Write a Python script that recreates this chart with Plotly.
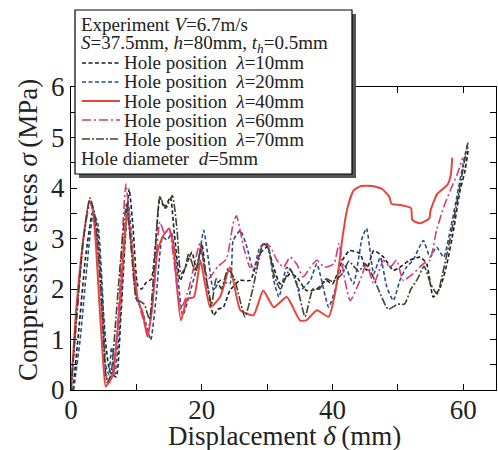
import plotly.graph_objects as go

# ---------------- data ----------------
x_l10 = [0.3, 1.2, 2.2, 3.3, 4.0, 4.7, 5.4, 6.0, 6.9, 7.6, 8.3, 8.9, 9.5, 10.2, 10.8, 11.5, 12.3, 13.0, 13.6, 14.3,
         15.2, 15.8, 16.7, 17.7, 18.5, 19.2, 20.0, 20.8, 21.8, 22.5, 23.3, 24.3, 25.8, 27.4, 28.9, 30.0, 31.0, 32.0,
         33.5, 34.5, 36.0, 37.6, 39.0, 40.0, 41.5, 42.6, 44.2, 45.2, 46.3, 47.8, 49.3, 50.3, 51.8, 53.4, 54.4, 55.4,
         56.5, 57.5, 58.5, 59.5, 60.2, 60.8]
y_l10 = [0, 1.2, 2.6, 3.52, 3.2, 2.0, 0.8, 0.35, 0.26, 1.4, 3.0, 3.98, 3.2, 2.07, 2.0, 2.13, 2.2, 3.0, 3.82, 3.6,
         3.82, 3.1, 2.17, 2.5, 2.73, 2.37, 2.9, 2.1, 1.48, 1.6, 1.64, 1.97, 2.17, 2.17, 2.7, 2.83, 2.43, 2.1,
         2.3, 2.24, 1.97, 2.0, 2.17, 2.1, 2.57, 2.76, 2.7, 2.37, 2.76, 2.63, 2.37, 2.43, 2.57, 2.63, 2.5, 1.84,
         2.04, 2.5, 3.16, 3.95, 4.3, 4.8]

x_l20 = [0.4, 1.4, 2.4, 3.4, 4.1, 4.8, 5.3, 5.8, 6.2, 6.7, 7.4, 8.0, 8.7, 9.3, 10.0, 10.8, 11.5, 12.2, 13.0, 14.0,
         14.7, 15.4, 16.2, 17.1, 18.5, 19.4, 20.3, 21.0, 21.8, 22.8, 24.3, 24.8, 25.9, 26.9, 27.9, 28.9, 30.0, 31.0,
         31.8, 33.0, 34.0, 35.0, 36.6, 37.6, 39.4, 40.2, 41.7, 43.2, 44.5, 45.2, 46.3, 47.3, 48.3, 49.3, 50.3, 51.3,
         52.3, 53.9, 54.9, 55.9, 57.0, 58.0, 59.0, 60.0, 60.6]
y_l20 = [0, 1.0, 2.4, 3.5, 3.3, 2.0, 0.5, 0.3, 0.85, 0.3, 1.2, 2.6, 3.75, 3.0, 1.8, 1.6, 1.3, 0.99, 1.8, 3.03,
         2.97, 3.1, 2.4, 1.48, 2.07, 2.5, 3.16, 2.6, 1.97, 2.17, 2.1, 2.96, 3.16, 2.83, 2.37, 2.83, 2.9, 2.17,
         1.84, 2.43, 2.3, 1.97, 2.17, 2.5, 1.64, 1.9, 2.5, 2.1, 3.0, 3.2, 2.3, 2.63, 2.04, 1.77, 2.17, 2.43,
         2.57, 2.96, 2.63, 2.83, 2.63, 3.16, 3.82, 4.5, 4.85]

x_l40 = [0, 0.8, 1.8, 2.8, 3.3, 3.8, 4.3, 4.8, 5.3, 5.8, 6.4, 7.4, 8.1, 8.65, 9.3, 10.2, 11.0, 11.7, 12.4, 13.2,
         14.0, 15.0, 15.6, 16.8, 17.8, 18.8, 19.8, 20.5, 21.3, 22.8, 24.3, 25.9, 27.9, 29.4, 31.0, 33.0, 35.0, 36.0,
         37.6, 39.4, 40.5, 41.5, 42.2, 43.2, 44.4, 46.1, 47.6, 48.7, 49.0, 50.5, 52.0, 52.2, 53.3, 54.8, 55.0, 56.0,
         57.6, 58.1, 58.3]
y_l40 = [0, 1.6, 2.9, 3.75, 3.6, 2.9, 1.8, 0.8, 0.07, 0.15, 0.3, 1.6, 2.9, 3.52, 2.8, 1.81, 1.5, 1.05, 1.6, 2.73,
         3.03, 3.2, 2.9, 1.38, 1.81, 1.84, 2.57, 2.1, 1.64, 1.84, 2.43, 1.58, 1.48, 1.97, 1.64, 1.84, 1.38, 1.38,
         1.58, 1.45, 2.0, 3.0, 3.56, 3.95, 4.04, 4.04, 3.98, 3.82, 3.69, 3.66, 3.6, 3.37, 3.3, 3.4, 3.56, 3.88,
         4.07, 4.27, 4.6]

x_l60 = [0, 0.9, 1.9, 2.9, 3.5, 4.2, 4.8, 5.3, 5.9, 6.6, 7.4, 8.0, 8.4, 9.0, 9.8, 10.6, 11.7, 12.6, 13.6, 14.3,
         15.0, 15.7, 16.8, 18.0, 19.7, 20.4, 21.0, 22.5, 23.8, 24.8, 25.3, 26.4, 27.4, 28.4, 29.4, 30.5, 31.5, 32.5,
         33.5, 34.5, 35.5, 36.6, 37.6, 38.8, 40.2, 41.0, 41.7, 42.7, 44.2, 45.2, 46.3, 47.8, 48.8, 49.8, 50.8, 52.3,
         53.9, 54.9, 55.9, 57.0, 58.0, 59.0, 59.9]
y_l60 = [0, 1.5, 3.0, 3.7, 3.5, 2.6, 1.4, 0.3, 0.15, 0.5, 1.8, 3.4, 4.08, 3.3, 2.0, 1.6, 1.15, 1.9, 3.33, 3.1,
         3.2, 2.6, 1.6, 2.0, 2.9, 2.4, 2.2, 2.45, 2.6, 3.3, 3.45, 2.83, 2.43, 2.5, 2.9, 2.83, 2.57, 2.43,
         2.63, 2.5, 2.24, 2.43, 2.57, 2.43, 2.5, 2.9, 2.3, 1.77, 2.17, 2.5, 2.1, 2.57, 2.43, 2.57, 2.17, 2.3,
         2.5, 2.57, 3.16, 3.62, 3.95, 4.25, 4.6]

x_l70 = [0, 0.9, 1.9, 2.9, 3.6, 4.3, 4.9, 5.5, 6.1, 6.8, 7.6, 8.5, 9.2, 10.0, 10.6, 11.2, 12.0, 12.8, 13.6, 14.5,
         15.5, 16.2, 16.8, 17.4, 18.0, 19.0, 19.9, 20.7, 21.5, 22.2, 23.0, 24.0, 25.0, 26.6, 27.8, 29.4, 30.2, 31.0,
         32.0, 33.5, 34.5, 35.8, 37.0, 38.0, 39.0, 40.0, 41.5, 42.5, 44.0, 45.0, 46.0, 47.0, 48.5, 50.0, 51.0, 52.0,
         53.0, 54.0, 55.0, 56.0, 57.0, 58.0, 59.0, 60.0, 60.7]
y_l70 = [0, 1.5, 3.0, 3.8, 3.5, 2.5, 1.2, 0.15, 0.3, 1.3, 2.6, 3.7, 2.8, 1.8, 1.75, 1.7, 1.4, 2.6, 3.82, 3.6,
         3.85, 3.2, 2.3, 2.4, 2.7, 2.35, 2.8, 2.2, 1.7, 2.2, 2.0, 2.4, 2.2, 1.45, 2.0, 2.9, 2.8, 2.3,
         2.0, 2.4, 2.1, 1.45, 2.0, 2.0, 2.2, 2.15, 2.3, 2.55, 2.35, 2.5, 2.3, 2.0, 1.6, 1.7, 1.7, 2.0,
         2.2, 2.45, 2.1, 1.9, 2.4, 3.0, 3.7, 4.4, 4.9]

legend_header = ["Experiment <i>V</i>=6.7m/s",
                 "<i>S</i>=37.5mm, <i>h</i>=80mm, <i>t</i><sub><i>h</i></sub>=0.5mm"]
legend_labels = ["Hole position  <i>λ</i>=10mm", "Hole position  <i>λ</i>=20mm",
                 "Hole position  <i>λ</i>=40mm", "Hole position  <i>λ</i>=60mm",
                 "Hole position  <i>λ</i>=70mm"]
legend_footer = "Hole diameter  <i>d</i>=5mm"

x_title = "Displacement <i>δ</i>\u2009(mm)"
y_title = "Compressive stress <i>σ</i>\u2009(MPa)"

# ---------------- styles ----------------
FONT = "Liberation Serif"
styles = [
    dict(color="#1e1e1e", width=1.6, dash="4px,2.5px"),
    dict(color="#2a4c8c", width=1.6, dash="4px,2.5px"),
    dict(color="#e4463c", width=2.0, dash="solid"),
    dict(color="#d63a78", width=1.6, dash="9px,3px,2px,3px"),
    dict(color="#45432c", width=1.6, dash="8px,2px,2px,2px"),
]
series = [(x_l10, y_l10), (x_l20, y_l20), (x_l40, y_l40), (x_l60, y_l60), (x_l70, y_l70)]

W, H = 498, 450
ML, MR, MT, MB = 71, 2, 87, 60
PW, PH = W - ML - MR, H - MT - MB


def pxx(x):
    return (x - ML) / PW


def pxy(y):
    return (H - MB - y) / PH


fig = go.Figure()
for (xs, ys), st, name in zip(series, styles, legend_labels):
    fig.add_trace(go.Scatter(x=xs, y=ys, mode="lines", name=name, showlegend=False,
                             line=dict(color=st["color"], width=st["width"], dash=st["dash"],
                                       shape="spline", smoothing=0.5)))

axis_common = dict(showline=True, linecolor="black", linewidth=1.3, mirror="ticks",
                   ticks="inside", ticklen=6, tickwidth=1.2, tickcolor="black",
                   showgrid=False, zeroline=False,
                   tickfont=dict(family=FONT, size=27, color="#222"))

fig.update_xaxes(range=[0, 65], tickmode="array", tickvals=[0, 20, 40, 60], ticklabelstandoff=-5,
                 minor=dict(dtick=10, tick0=0, ticks="inside", ticklen=6, tickcolor="black", tickwidth=1.2),
                 **axis_common)
fig.update_yaxes(range=[0, 6], dtick=1, tick0=0,
                 minor=dict(dtick=0.5, tick0=0, ticks="inside", ticklen=6, tickcolor="black", tickwidth=1.2),
                 **axis_common)

shapes = []
annotations = []

# legend box with shadow
bx0, by0, bx1, by1 = 75, 10, 352, 174
shapes.append(dict(type="rect", xref="paper", yref="paper", layer="above",
                   x0=pxx(bx0 + 4), x1=pxx(bx1 + 4), y0=pxy(by1 + 4), y1=pxy(by0 + 4),
                   fillcolor="#555555", line=dict(width=0)))
shapes.append(dict(type="rect", xref="paper", yref="paper", layer="above",
                   x0=pxx(bx0), x1=pxx(bx1), y0=pxy(by1), y1=pxy(by0),
                   fillcolor="white", line=dict(color="black", width=1.2)))

line_y = [25, 44, 63, 82, 101, 120, 139, 158]
tfont = dict(family=FONT, size=19, color="#222")
for i, txt in enumerate(legend_header):
    annotations.append(dict(text=txt, xref="paper", yref="paper", x=pxx(79), y=pxy(line_y[i]),
                            xanchor="left", yanchor="middle", showarrow=False, font=tfont))
for j, (txt, st) in enumerate(zip(legend_labels, styles)):
    yy = line_y[2 + j]
    shapes.append(dict(type="line", xref="paper", yref="paper", layer="above",
                       x0=pxx(82), x1=pxx(120), y0=pxy(yy), y1=pxy(yy),
                       line=dict(color=st["color"], width=st["width"], dash=st["dash"])))
    annotations.append(dict(text=txt, xref="paper", yref="paper", x=pxx(122), y=pxy(yy),
                            xanchor="left", yanchor="middle", showarrow=False, font=tfont))
annotations.append(dict(text=legend_footer, xref="paper", yref="paper", x=pxx(79), y=pxy(line_y[7]),
                        xanchor="left", yanchor="middle", showarrow=False, font=tfont))

# axis titles
annotations.append(dict(text=x_title, xref="paper", yref="paper", x=pxx(284), y=pxy(436),
                        xanchor="center", yanchor="middle", showarrow=False,
                        font=dict(family=FONT, size=27, color="#222")))
annotations.append(dict(text=y_title, xref="paper", yref="paper", x=pxx(28), y=pxy(230),
                        xanchor="center", yanchor="middle", showarrow=False, textangle=-90,
                        font=dict(family=FONT, size=27, color="#222")))

fig.update_layout(width=W, height=H, margin=dict(l=ML, r=MR, t=MT, b=MB),
                  paper_bgcolor="white", plot_bgcolor="white",
                  shapes=shapes, annotations=annotations, showlegend=False)

fig.write_html("out.html")
